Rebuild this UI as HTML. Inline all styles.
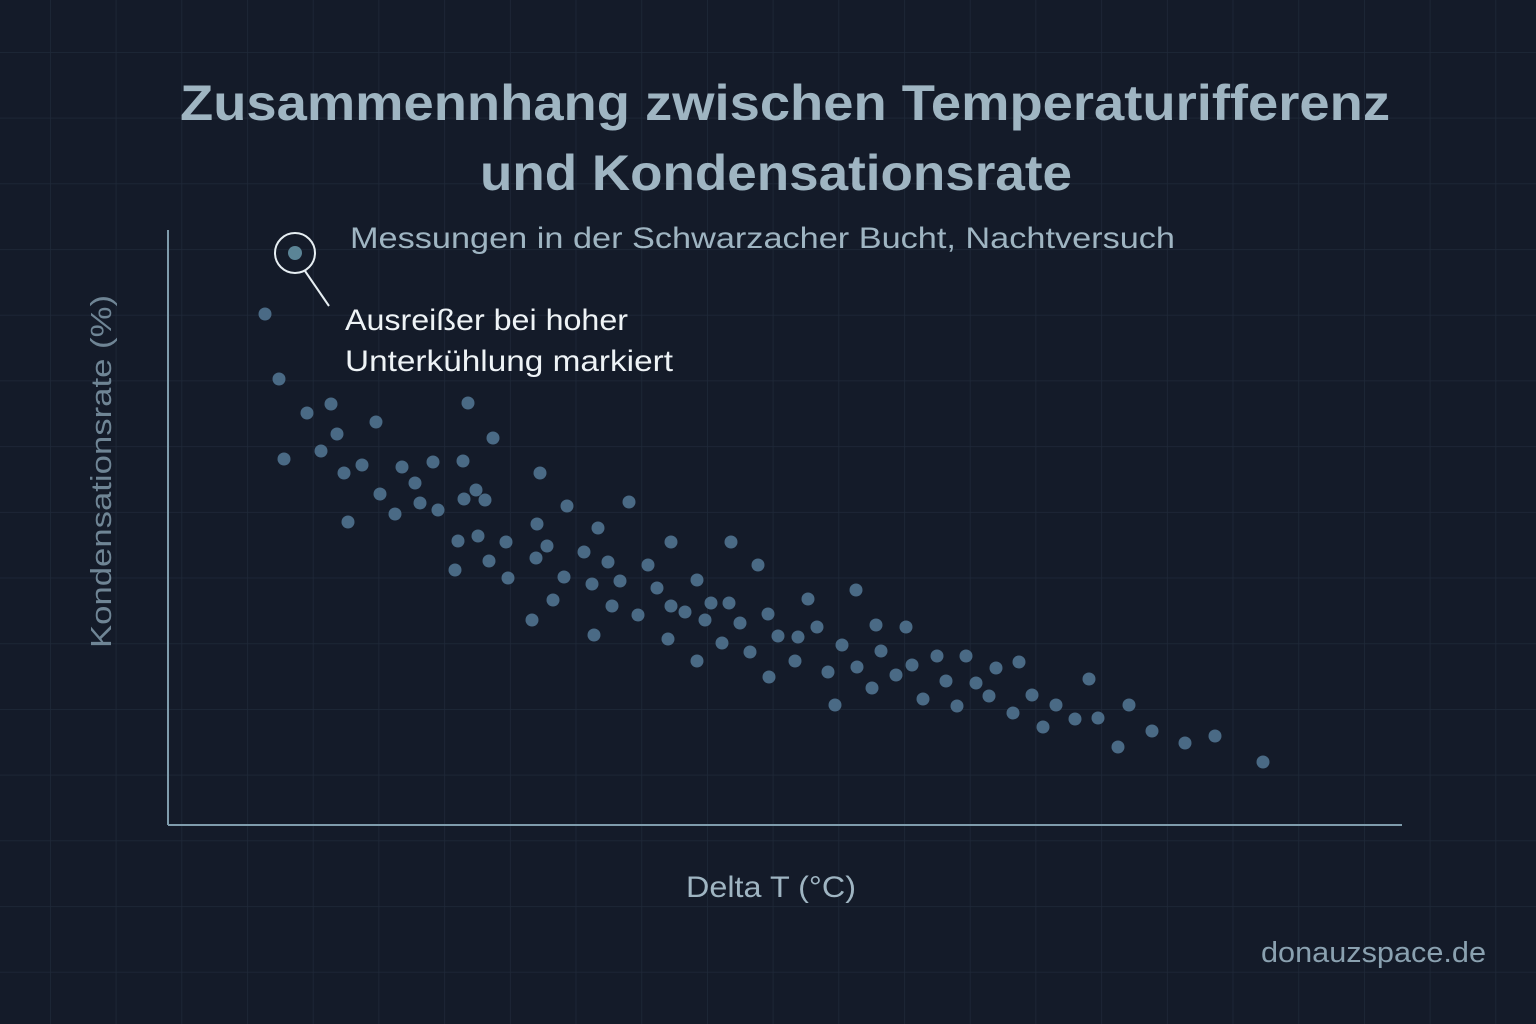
<!DOCTYPE html>
<html><head><meta charset="utf-8"><style>
html,body{margin:0;padding:0;background:#141b29;}
svg{display:block}
text{font-family:"Liberation Sans",sans-serif}
</style></head><body>
<svg width="1536" height="1024" xmlns="http://www.w3.org/2000/svg">
<defs><pattern id="g" x="50" y="52" width="65.7" height="65.7" patternUnits="userSpaceOnUse"><path d="M0 0H65.7M0 0V65.7" stroke="#1f2939" stroke-width="1.5" fill="none"/></pattern></defs>
<rect width="1536" height="1024" fill="#141b29"/>
<rect width="1536" height="1024" fill="url(#g)"/>
<text x="180" y="120" font-size="50" font-weight="bold" fill="#9fb5c2" textLength="1210" lengthAdjust="spacingAndGlyphs">Zusammennhang zwischen Temperaturifferenz</text>
<text x="480" y="190" font-size="50" font-weight="bold" fill="#9fb5c2" textLength="592" lengthAdjust="spacingAndGlyphs">und Kondensationsrate</text>
<text x="350" y="248" font-size="30" fill="#9fb5c2" textLength="825" lengthAdjust="spacingAndGlyphs">Messungen in der Schwarzacher Bucht, Nachtversuch</text>
<line x1="168" y1="230" x2="168" y2="825" stroke="#7f9cac" stroke-width="2"/>
<line x1="168" y1="825" x2="1402" y2="825" stroke="#7f9cac" stroke-width="2"/>
<text transform="translate(111,648) rotate(-90)" font-size="29" fill="#6f8595" textLength="353" lengthAdjust="spacingAndGlyphs">Kondensationsrate (%)</text>
<text x="686" y="897" font-size="30" fill="#9fb5c2" textLength="170" lengthAdjust="spacingAndGlyphs">Delta T (°C)</text>
<text x="1261" y="962" font-size="29" fill="#8aa1b0" textLength="225" lengthAdjust="spacingAndGlyphs">donauzspace.de</text>
<circle cx="295" cy="253" r="20" fill="none" stroke="#e6eef2" stroke-width="2"/>
<line x1="305" y1="271" x2="329" y2="306" stroke="#e6eef2" stroke-width="2"/>
<text x="345" y="330" font-size="30" fill="#eef3f6" textLength="283" lengthAdjust="spacingAndGlyphs">Ausreißer bei hoher</text>
<text x="345" y="371" font-size="30" fill="#eef3f6" textLength="328" lengthAdjust="spacingAndGlyphs">Unterkühlung markiert</text>
<g fill="#4a6a85">
<circle cx="295" cy="253" r="7" fill="#5b8496"/>
<circle cx="265" cy="314" r="6.5"/><circle cx="279" cy="379" r="6.5"/><circle cx="284" cy="459" r="6.5"/>
<circle cx="307" cy="413" r="6.5"/><circle cx="331" cy="404" r="6.5"/><circle cx="337" cy="434" r="6.5"/><circle cx="321" cy="451" r="6.5"/>
<circle cx="376" cy="422" r="6.5"/><circle cx="362" cy="465" r="6.5"/><circle cx="344" cy="473" r="6.5"/><circle cx="348" cy="522" r="6.5"/>
<circle cx="380" cy="494" r="6.5"/><circle cx="395" cy="514" r="6.5"/><circle cx="402" cy="467" r="6.5"/><circle cx="415" cy="483" r="6.5"/>
<circle cx="420" cy="503" r="6.5"/><circle cx="433" cy="462" r="6.5"/><circle cx="438" cy="510" r="6.5"/><circle cx="463" cy="461" r="6.5"/>
<circle cx="468" cy="403" r="6.5"/><circle cx="493" cy="438" r="6.5"/><circle cx="476" cy="490" r="6.5"/><circle cx="464" cy="499" r="6.5"/>
<circle cx="485" cy="500" r="6.5"/><circle cx="458" cy="541" r="6.5"/><circle cx="478" cy="536" r="6.5"/><circle cx="455" cy="570" r="6.5"/>
<circle cx="489" cy="561" r="6.5"/><circle cx="506" cy="542" r="6.5"/><circle cx="508" cy="578" r="6.5"/><circle cx="540" cy="473" r="6.5"/>
<circle cx="537" cy="524" r="6.5"/><circle cx="536" cy="558" r="6.5"/><circle cx="547" cy="546" r="6.5"/><circle cx="567" cy="506" r="6.5"/>
<circle cx="564" cy="577" r="6.5"/><circle cx="553" cy="600" r="6.5"/><circle cx="532" cy="620" r="6.5"/><circle cx="584" cy="552" r="6.5"/>
<circle cx="598" cy="528" r="6.5"/><circle cx="608" cy="562" r="6.5"/><circle cx="592" cy="584" r="6.5"/><circle cx="620" cy="581" r="6.5"/>
<circle cx="629" cy="502" r="6.5"/><circle cx="612" cy="606" r="6.5"/><circle cx="594" cy="635" r="6.5"/><circle cx="638" cy="615" r="6.5"/>
<circle cx="648" cy="565" r="6.5"/><circle cx="657" cy="588" r="6.5"/><circle cx="671" cy="542" r="6.5"/><circle cx="671" cy="606" r="6.5"/>
<circle cx="685" cy="612" r="6.5"/><circle cx="697" cy="580" r="6.5"/><circle cx="705" cy="620" r="6.5"/><circle cx="711" cy="603" r="6.5"/>
<circle cx="668" cy="639" r="6.5"/><circle cx="697" cy="661" r="6.5"/><circle cx="722" cy="643" r="6.5"/><circle cx="729" cy="603" r="6.5"/>
<circle cx="731" cy="542" r="6.5"/><circle cx="740" cy="623" r="6.5"/><circle cx="758" cy="565" r="6.5"/><circle cx="768" cy="614" r="6.5"/>
<circle cx="750" cy="652" r="6.5"/><circle cx="769" cy="677" r="6.5"/><circle cx="778" cy="636" r="6.5"/><circle cx="798" cy="637" r="6.5"/>
<circle cx="808" cy="599" r="6.5"/><circle cx="817" cy="627" r="6.5"/><circle cx="795" cy="661" r="6.5"/><circle cx="828" cy="672" r="6.5"/>
<circle cx="842" cy="645" r="6.5"/><circle cx="856" cy="590" r="6.5"/><circle cx="835" cy="705" r="6.5"/><circle cx="857" cy="667" r="6.5"/>
<circle cx="876" cy="625" r="6.5"/><circle cx="881" cy="651" r="6.5"/><circle cx="872" cy="688" r="6.5"/><circle cx="896" cy="675" r="6.5"/>
<circle cx="906" cy="627" r="6.5"/><circle cx="912" cy="665" r="6.5"/><circle cx="923" cy="699" r="6.5"/><circle cx="937" cy="656" r="6.5"/>
<circle cx="946" cy="681" r="6.5"/><circle cx="957" cy="706" r="6.5"/><circle cx="966" cy="656" r="6.5"/><circle cx="976" cy="683" r="6.5"/>
<circle cx="989" cy="696" r="6.5"/><circle cx="996" cy="668" r="6.5"/><circle cx="1013" cy="713" r="6.5"/><circle cx="1019" cy="662" r="6.5"/>
<circle cx="1032" cy="695" r="6.5"/><circle cx="1043" cy="727" r="6.5"/><circle cx="1056" cy="705" r="6.5"/><circle cx="1075" cy="719" r="6.5"/>
<circle cx="1089" cy="679" r="6.5"/><circle cx="1098" cy="718" r="6.5"/><circle cx="1118" cy="747" r="6.5"/><circle cx="1129" cy="705" r="6.5"/>
<circle cx="1152" cy="731" r="6.5"/><circle cx="1185" cy="743" r="6.5"/><circle cx="1215" cy="736" r="6.5"/><circle cx="1263" cy="762" r="6.5"/>
</g>
</svg>
</body></html>
